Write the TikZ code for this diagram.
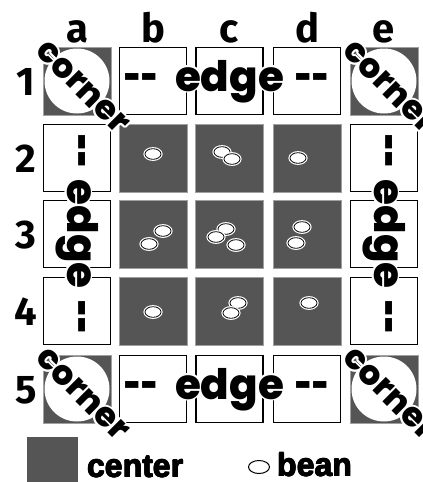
\documentclass[tikz,border=0pt]{standalone}
\usepackage{fontspec}
\usepackage{graphicx}
\usetikzlibrary{calc}
\newfontfamily\geo{Poppins ExtraBold}
\newfontfamily\labfont{Fira Sans}
\newfontfamily\legfont{Liberation Sans}
\definecolor{cgray}{HTML}{555555}
\definecolor{cborder}{HTML}{A0A0A0}
\newcommand\halotext[5]{%
  \foreach \hang in {0,30,...,330}{\node[text=white,rotate=#3,anchor=base,inner sep=0] at ($(#2)+(\hang:1.9)$) {#4#5};}
  \node[text=black,rotate=#3,anchor=base,inner sep=0] (#1) at (#2) {#4#5};}
\newcommand\heavytext[3]{%
  \foreach \hang in {0,60,...,300}{\node[text=black,anchor=base west,inner sep=0] at ($(#2)+(\hang:0.5)$) {\legfont\bfseries\fontsize{32}{32}\selectfont #3};}
  \node[text=black,anchor=base west,inner sep=0] (#1) at (#2) {\legfont\bfseries\fontsize{32}{32}\selectfont #3};}
\newcommand\bean[2]{%
  \draw[white,line width=3.2] (#1,#2) ellipse [x radius=8,y radius=5.3];
  \draw[black,line width=0.8,fill=white] (#1,#2) ellipse [x radius=8,y radius=5.3];}
\newcommand\dashes{\scalebox{0.7}[1]{-{}-}}
\begin{document}
\begin{tikzpicture}[x=1pt,y=-1pt,
  centercell/.style={fill=cgray,draw=cborder,line width=0.8,minimum size=68,inner sep=0},
  edgecell/.style={fill=white,draw=black,line width=1.3,minimum size=67,inner sep=0},
  cornercell/.style={fill=cgray,draw=cborder,line width=0.8,minimum size=68,inner sep=0},
  collabel/.style={font=\labfont\bfseries\fontsize{40}{40}\selectfont,anchor=base,inner sep=0}]
\useasboundingbox (0,0) rectangle (423,482);
\clip (0,0) rectangle (423,482);
% column / row positions
\def\xa{77}\def\xb{153}\def\xc{229.5}\def\xd{307}\def\xe{384}
\def\ya{81}\def\yb{158}\def\yc{234}\def\yd{311}\def\ye{389}
% labels
\node[collabel] (la) at (\xa,42) {a};
\node[collabel] (lb) at (\xb,42) {b};
\node[collabel] (lc) at (\xc,42) {c};
\node[collabel] (ld) at (\xd,42) {d};
\node[collabel] (le) at (\xe,42) {e};
\node[collabel] (l1) at (26,\ya+14) {1};
\node[collabel] (l2) at (26,\yb+14) {2};
\node[collabel] (l3) at (26,\yc+14) {3};
\node[collabel] (l4) at (26,\yd+14) {4};
\node[collabel] (l5) at (26,\ye+14) {5};
% corner cells
\foreach \cx/\cy/\nm in {\xa/\ya/a1,\xe/\ya/e1,\xa/\ye/a5,\xe/\ye/e5}{
  \node[cornercell] (\nm) at (\cx,\cy) {};
  \fill[white] (\cx,\cy) circle [radius=32.5];
}
% edge cells
\foreach \cx/\cy/\nm in {\xb/\ya/b1,\xc/\ya/c1,\xd/\ya/d1,\xb/\ye/b5,\xc/\ye/c5,\xd/\ye/d5,
  \xa/\yb/a2,\xa/\yc/a3,\xa/\yd/a4,\xe/\yb/e2,\xe/\yc/e3,\xe/\yd/e4}{
  \node[edgecell] (\nm) at (\cx,\cy) {};
}
% center cells
\foreach \cx/\cy/\nm in {\xb/\yb/b2,\xc/\yb/c2,\xd/\yb/d2,\xb/\yc/b3,\xc/\yc/c3,\xd/\yc/d3,\xb/\yd/b4,\xc/\yd/c4,\xd/\yd/d4}{
  \node[centercell] (\nm) at (\cx,\cy) {};
}
% beans
\bean{153}{154}
\bean{222}{152}\bean{232}{159}
\bean{298}{158}
\bean{163}{231}\bean{149}{244}
\bean{226}{229}\bean{216}{237}\bean{236}{245}
\bean{302}{227}\bean{296}{243}
\bean{153}{312}
\bean{238}{303}\bean{231}{313}
\bean{309}{303}
% edge texts
\def\ef{\geo\fontsize{42}{42}\selectfont}
\halotext{tedge}{\xc,91}{0}{\ef}{edge}
\halotext{tdl}{141,91}{0}{\ef}{\dashes}
\halotext{tdr}{312,91}{0}{\ef}{\dashes}
\halotext{bedge}{\xc,399}{0}{\ef}{edge}
\halotext{bdl}{141,399}{0}{\ef}{\dashes}
\halotext{bdr}{312,399}{0}{\ef}{\dashes}
\halotext{ledge}{67,\yc}{-90}{\ef}{edge}
\halotext{ldt}{67,151}{-90}{\ef}{\dashes}
\halotext{ldb}{67,317}{-90}{\ef}{\dashes}
\halotext{redge}{374,\yc}{-90}{\ef}{edge}
\halotext{rdt}{374,151}{-90}{\ef}{\dashes}
\halotext{rdb}{374,317}{-90}{\ef}{\dashes}
% corner texts
\def\cf{\geo\fontsize{34}{34}\selectfont}
\halotext{ca1}{75.5,94}{-45}{\cf}{corner}
\halotext{ce1}{382.5,94}{-45}{\cf}{corner}
\halotext{ca5}{75.5,401}{-45}{\cf}{corner}
\halotext{ce5}{382.5,401}{-45}{\cf}{corner}
% legend
\fill[cgray] (27,437) rectangle (78,490);
\heavytext{lcenter}{87,477}{center}
\draw[black,line width=1] (259,467) ellipse [x radius=10.5,y radius=6.5];
\heavytext{lbean}{277,476}{bean}
\end{tikzpicture}
\end{document}
